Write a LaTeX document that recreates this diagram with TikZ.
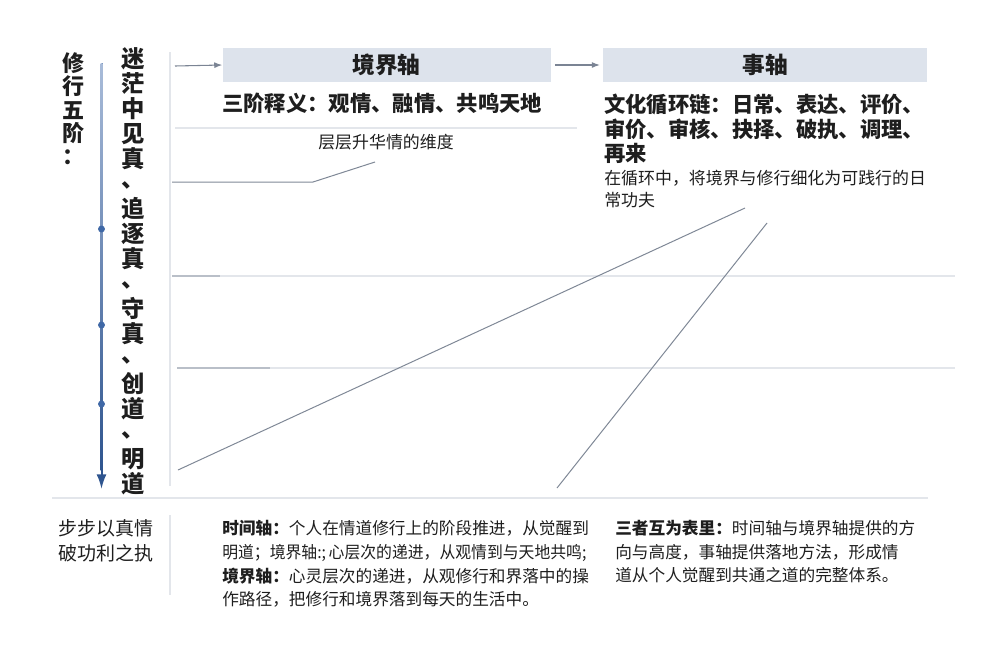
\documentclass[tikz,border=0pt]{standalone}
\usepackage{fontspec}
\setmainfont{Noto Sans CJK SC}
\usetikzlibrary{positioning,arrows.meta}

\definecolor{inkText}{HTML}{1E1E1E}
\definecolor{hdrFill}{HTML}{DDE3EC}
\definecolor{ruleLight}{HTML}{E3E6EB}
\definecolor{ruleMid}{HTML}{B9BFC8}
\definecolor{guideGray}{HTML}{7F8896}
\definecolor{arrowGray}{HTML}{7B8494}
\definecolor{tlLight}{HTML}{A9BCD9}
\definecolor{tlDark}{HTML}{2F558F}
\definecolor{tlDot}{HTML}{3F68A6}

\tikzset{
  hdr/.style={fill=hdrFill, minimum height=25.5pt, inner sep=0pt, text=inkText,
    font=\fontsize{17}{17}\selectfont\bfseries},
  vcol/.style={align=center, inner sep=0pt, text=inkText},
  lead/.style={inner sep=0pt, align=left, text=inkText,
    font=\fontsize{16}{18.4}\selectfont\bfseries},
  gloss/.style={inner sep=0pt, align=left, text=inkText,
    font=\fontsize{12.7}{16.5}\selectfont},
  note/.style={inner sep=0pt, align=left, text=inkText,
    font=\fontsize{12.5}{17.8}\selectfont},
  ruleline/.style={ruleLight, line width=0.8pt},
  guide/.style={guideGray, line width=0.75pt},
}

\begin{document}
\begin{tikzpicture}[>={Latex[length=6pt,width=4.5pt]}, x=0.75pt, y=-0.75pt]
  % Fix the canvas to the size of the sheet
  \useasboundingbox (0,0) rectangle (981,654);

  % A pause mark sitting in the middle of its cell
  \def\dun{\smash{\raisebox{0.2em}{、}}}

  % The two columns on the left, written top to bottom
  \node[vcol, font=\fontsize{16.5}{17.5}\selectfont\bfseries] (stageTitle) at (73,109) {修\\行\\五\\阶\\：};
  \node[vcol, font=\fontsize{17.5}{18.75}\selectfont\bfseries] (stageList) at (133,271)
    {迷\\茫\\中\\见\\真\\\dun\\追\\逐\\真\\\dun\\守\\真\\\dun\\创\\道\\\dun\\明\\道};

  % The time line with its stage marks
  \coordinate (tlTop) at (101.5,63);
  \coordinate (tlEnd) at (101.5,489);
  \draw[-{Latex[length=11pt,width=7.5pt]}, tlDark, line width=1.5pt] (tlTop) -- (tlEnd);
  \shade[top color=tlLight, bottom color=tlDark] (100.5,63) rectangle (102.5,470);
  \foreach \y in {229,325,404}
    \fill[tlDot] (101.5,\y) circle (2.6pt);

  % Thin vertical dividers
  \draw[ruleline] (170,52) -- (170,486);
  \draw[ruleline] (170,515) -- (170,595);

  % Faint ruling lines across the body
  \foreach \y/\xa/\xb in {128/175/577, 276/172/955, 368/177/955}
    \draw[ruleline] (\xa,\y) -- (\xb,\y);
  \draw[ruleMid, line width=0.8pt] (172,276) -- (220,276);
  \draw[ruleMid, line width=0.8pt] (177,368) -- (270,368);
  \draw[ruleline] (52,498) -- (928,498);

  % Guide strokes
  \draw[guide] (172,182) -- (313,182) -- (375,162);
  \draw[guide] (178,470) -- (745,208);
  \draw[guide] (557,488) -- (767,223);

  % Axis headers
  \node[hdr, minimum width=246pt] (hdrRealm) at (386.5,65) {境界轴};
  \node[hdr, minimum width=243pt] (hdrAffair) at (765,65) {事轴};
  \coordinate (arrIn) at (175,66);
  \draw[->, arrowGray, line width=0.8pt] (arrIn) -- (hdrRealm.west);
  \draw[->, arrowGray, line width=0.8pt, shorten <=3pt, shorten >=2.2pt] (hdrRealm.east) -- (hdrAffair.west);

  % Texts under the headers
  \node[lead, anchor=west] (realmStages) at (222,103) {三阶释义：观情、融情、共鸣天地};
  \node[gloss, anchor=west] (realmGloss) at (318,142) {层层升华情的维度};
  \node[lead, anchor=north west] (cycleChain) at (604,94)
    {文化循环链：日常、表达、评价、\\审价、审核、抉择、破执、调理、\\再来};
  \node[gloss, anchor=north west] (cycleGloss) at (604,170)
    {在循环中，将境界与修行细化为可践行的日\\常功夫};

  % Footer notes
  \node[note, anchor=north west, font=\fontsize{14.25}{18.75}\selectfont] (motto) at (58,519)
    {步步以真情\\破功利之执};
  \node[note, anchor=north west] (axisNote) at (222,520)
    {\textbf{时间轴：}个人在情道修行上的阶段推进，从觉醒到\\\scalebox{0.95}[1]{明道；境界轴:;\,心层次的递进，从观情到与天地共鸣;}\\\textbf{境界轴：}心灵层次的递进，从观修行和界落中的操\\作路径，把修行和境界落到每天的生活中。};
  \node[note, anchor=north west] (unityNote) at (615,520)
    {\textbf{三者互为表里：}时间轴与境界轴提供的方\\向与高度，事轴提供落地方法，形成情\\道从个人觉醒到共通之道的完整体系。};
\end{tikzpicture}
\end{document}
